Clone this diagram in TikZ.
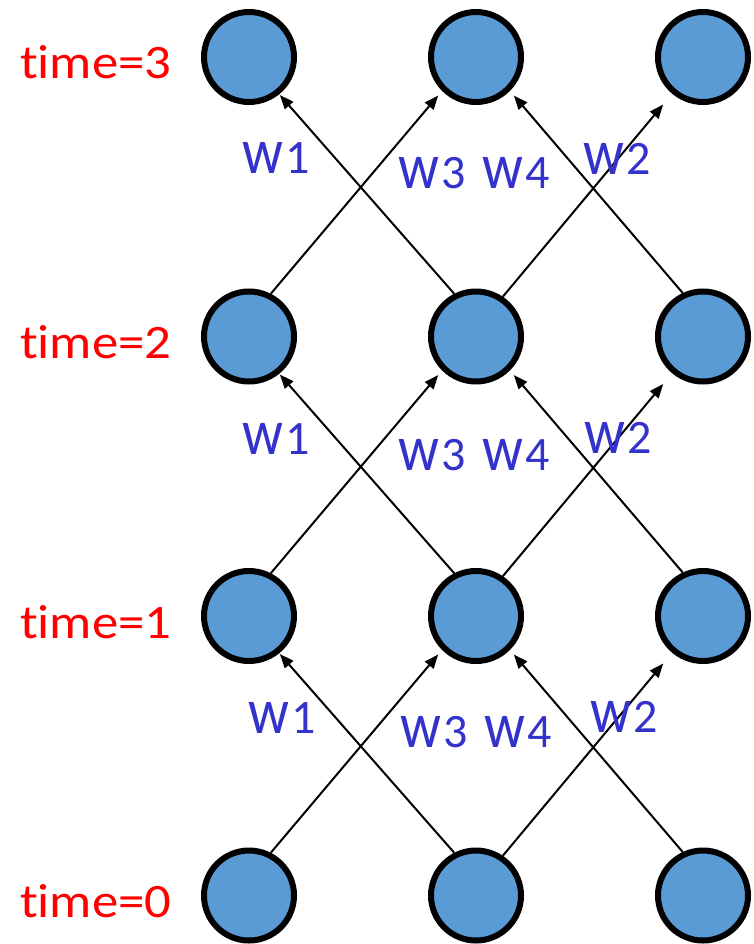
\documentclass[tikz,border=0pt]{standalone}
\usepackage{fontspec}
\setmainfont{Carlito}[Ligatures={NoCommon,NoRare}]
\usetikzlibrary{arrows.meta}
\definecolor{nodeblue}{HTML}{5B9BD5}
\definecolor{wblue}{HTML}{3333CC}
\definecolor{tred}{HTML}{FF0000}
\newcommand{\wsym}{\scalebox{0.88}[1]{\fontsize{65}{65}\selectfont w}}
\newcommand{\wlab}[1]{\wsym\kern2pt{\fontsize{48}{50}\selectfont #1}}
\newcommand{\tlab}[1]{\scalebox{1.1}[1]{\fontsize{48}{50}\selectfont time=#1}}
\begin{document}
\begin{tikzpicture}[x=1pt,y=1pt,
  state/.style={circle, draw=black, line width=6pt, fill=nodeblue, minimum size=90pt, inner sep=0pt},
  edge/.style={-{Triangle[length=14pt,width=11pt]}, line width=2pt, draw=black},
  wl/.style={text=wblue, inner sep=0pt, anchor=base west},
  tl/.style={text=tred, inner sep=0pt, anchor=base west}]
\useasboundingbox (0,0) rectangle (753,-944);
% nodes
\foreach \r/\y in {0/-895.5,1/-616,2/-336.5,3/-57}{
  \node[state] (n\r1) at (249,\y) {};
  \node[state] (n\r2) at (476,\y) {};
  \node[state] (n\r3) at (703,\y) {};
}
% edges
\foreach \r/\s in {0/1,1/2,2/3}{
  \draw[edge, shorten >=6pt]  (n\r1.63)  -- (n\s2.225);
  \draw[edge, shorten >=1pt]  (n\r2.117) -- (n\s1.309);
  \draw[edge, shorten >=14pt] (n\r2.56)  -- (n\s3.230);
  \draw[edge, shorten >=6pt]  (n\r3.115) -- (n\s2.315);
}
% time labels
\node[tl] (t3) at (20,-79) {\tlab{3}};
\node[tl] (t2) at (20,-358.5) {\tlab{2}};
\node[tl] (t1) at (20,-638) {\tlab{1}};
\node[tl] (t0) at (20,-917) {\tlab{0}};
% weight labels
\node[wl] (a1) at (242,-174) {\wlab{1}};
\node[wl] (a2) at (398,-189) {\wlab{3}\hspace{17pt}\wlab{4}};
\node[wl] (a3) at (583,-175) {\wlab{2}};
\node[wl] (b1) at (242,-454) {\wlab{1}};
\node[wl] (b2) at (398,-470) {\wlab{3}\hspace{17pt}\wlab{4}};
\node[wl] (b3) at (584,-453) {\wlab{2}};
\node[wl] (c1) at (248,-733) {\wlab{1}};
\node[wl] (c2) at (400,-747) {\wlab{3}\hspace{17pt}\wlab{4}};
\node[wl] (c3) at (590,-732) {\wlab{2}};
\end{tikzpicture}
\end{document}
